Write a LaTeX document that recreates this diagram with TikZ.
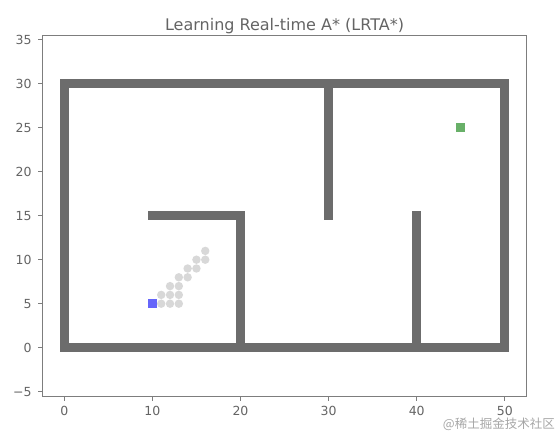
\documentclass[tikz,border=0pt]{standalone}
\usepackage{fontspec}
\setmainfont{DejaVu Sans}
\newfontfamily\cjkfont{Noto Sans CJK SC}
\usepackage{xcolor}
\definecolor{wallgrey}  {RGB}{108,108,108}
\definecolor{startblue} {RGB}{102,102,250}
\definecolor{goalgreen} {RGB}{104,176,104}
\definecolor{visitgrey} {RGB}{216,216,216}
\definecolor{axisgrey}  {RGB}{125,125,125}
\definecolor{labelgrey} {RGB}{100,100,100}
\usepackage{tikz}
\newlength\cell
\setlength\cell{8.8pt}
\newlength\ticklen
\setlength\ticklen{4.5pt}
\tikzset{
  wall/.style={draw=wallgrey, line width=\cell, line cap=rect, line join=miter},
  marker/.style={rectangle, fill=#1, minimum size=\cell, inner sep=0pt},
  visitdot/.style={circle, fill=visitgrey, minimum size=0.96\cell, inner sep=0pt},
  frame/.style={draw=axisgrey, line width=0.9pt},
  tickmark/.style={draw=axisgrey, line width=0.9pt},
}

\begin{document}
\begin{tikzpicture}[x=8.81pt, y=8.8pt,
  xlab/.style={anchor=base, inner sep=0pt, text=labelgrey,
               font=\fontsize{12.5}{14}\selectfont},
  ylab/.style={anchor=east, inner sep=0pt, xshift=-10.5pt, text=labelgrey,
               font=\fontsize{12.5}{14}\selectfont}]
\useasboundingbox (-64.3pt,-83.3pt) rectangle (492.7pt,347.7pt);
% axes box
\draw[frame] (-2.5,-5.5) rectangle (52.5,35.5);
% title
\node[anchor=base, inner sep=0pt, text=labelgrey, font=\fontsize{16}{19}\selectfont]
  (title) at (25,36.1) {Learning Real-time A* (LRTA*)};
% x ticks
\draw[tickmark] (0,-5.5) -- ++(0,-\ticklen);
\draw[tickmark] (10,-5.5) -- ++(0,-\ticklen);
\draw[tickmark] (20,-5.5) -- ++(0,-\ticklen);
\draw[tickmark] (30,-5.5) -- ++(0,-\ticklen);
\draw[tickmark] (40,-5.5) -- ++(0,-\ticklen);
\draw[tickmark] (50,-5.5) -- ++(0,-\ticklen);
\node[xlab] (x0) at (0,-7.65) {0};
\node[xlab] (x10) at (10,-7.65) {10};
\node[xlab] (x20) at (20,-7.65) {20};
\node[xlab] (x30) at (30,-7.65) {30};
\node[xlab] (x40) at (40,-7.65) {40};
\node[xlab] (x50) at (50,-7.65) {50};
% y ticks
\draw[tickmark] (-2.5,-5) -- ++(-\ticklen,0);
\draw[tickmark] (-2.5,0) -- ++(-\ticklen,0);
\draw[tickmark] (-2.5,5) -- ++(-\ticklen,0);
\draw[tickmark] (-2.5,10) -- ++(-\ticklen,0);
\draw[tickmark] (-2.5,15) -- ++(-\ticklen,0);
\draw[tickmark] (-2.5,20) -- ++(-\ticklen,0);
\draw[tickmark] (-2.5,25) -- ++(-\ticklen,0);
\draw[tickmark] (-2.5,30) -- ++(-\ticklen,0);
\draw[tickmark] (-2.5,35) -- ++(-\ticklen,0);
\node[ylab] (ym5) at (-2.5,-5) {−5};
\node[ylab] (y0) at (-2.5,0) {0};
\node[ylab] (y5) at (-2.5,5) {5};
\node[ylab] (y10) at (-2.5,10) {10};
\node[ylab] (y15) at (-2.5,15) {15};
\node[ylab] (y20) at (-2.5,20) {20};
\node[ylab] (y25) at (-2.5,25) {25};
\node[ylab] (y30) at (-2.5,30) {30};
\node[ylab] (y35) at (-2.5,35) {35};
% walls
\draw[wall] (0,0) rectangle (50,30);
\draw[wall] (10,15) -- (20,15) -- (20,0);
\draw[wall] (30,30) -- (30,15);
\draw[wall] (40,0) -- (40,15);
% cells visited by the search
\node[visitdot] (v1) at (11,5) {};
\node[visitdot] (v2) at (12,5) {};
\node[visitdot] (v3) at (13,5) {};
\node[visitdot] (v4) at (11,6) {};
\node[visitdot] (v5) at (12,6) {};
\node[visitdot] (v6) at (13,6) {};
\node[visitdot] (v7) at (12,7) {};
\node[visitdot] (v8) at (13,7) {};
\node[visitdot] (v9) at (13,8) {};
\node[visitdot] (v10) at (14,8) {};
\node[visitdot] (v11) at (14,9) {};
\node[visitdot] (v12) at (15,9) {};
\node[visitdot] (v13) at (15,10) {};
\node[visitdot] (v14) at (16,10) {};
\node[visitdot] (v15) at (16,11) {};
% start and goal
\node[marker=startblue] (start) at (10,5) {};
\node[marker=goalgreen] (goal) at (45,25) {};
% watermark
\node[anchor=base east, inner sep=0pt, text=black!35,
      font=\cjkfont\fontsize{12.5}{14}\selectfont]
  (mark) at (55.7,-9.15) {@稀土掘金技术社区};
\end{tikzpicture}
\end{document}
